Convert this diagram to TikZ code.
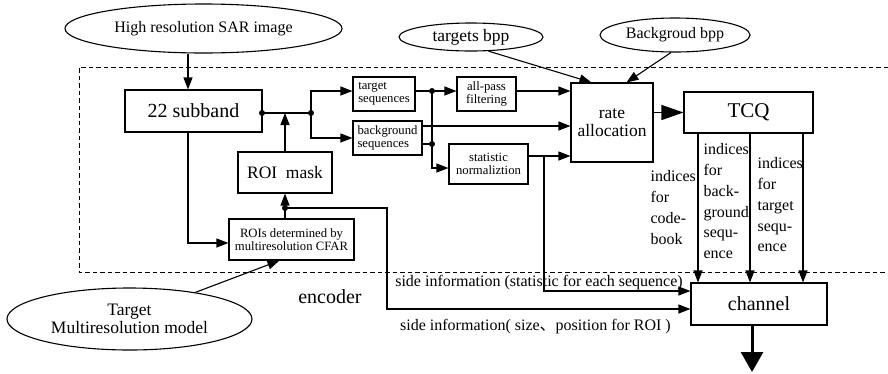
\documentclass[tikz,border=0pt]{standalone}
\usepackage{fontspec}
\setmainfont{Liberation Serif}
\newfontfamily\cjkfont{Noto Sans CJK SC}
\usetikzlibrary{shapes.geometric,arrows.meta,calc}
\begin{document}
\begin{tikzpicture}[x=1pt,y=-1pt,line width=1.1pt,
  box/.style={draw,rectangle,inner sep=0pt,align=center},
  oval/.style={draw,ellipse,inner sep=0pt,align=center},
  lbl/.style={inner sep=0pt,align=left},
  arr/.style={-{Triangle[length=12pt,width=9pt]}},
  bigarr/.style={-{Triangle[length=22pt,width=15pt]}},
  outarr/.style={line width=3pt,-{Triangle[length=20pt,width=22pt]}},
  jdot/.style={circle,fill,inner sep=0pt,minimum size=6pt},
  encbox/.style={dash pattern=on 4.5pt off 3pt,line width=1pt},
  fs/.style={font=\fontsize{12.7}{13}\selectfont},
  fm/.style={font=\fontsize{16}{19}\selectfont},
  fi/.style={font=\fontsize{16}{20.8}\selectfont},
  fl/.style={font=\fontsize{17.5}{17.5}\selectfont},
  fxl/.style={font=\fontsize{20}{22}\selectfont},
  fch/.style={font=\fontsize{20}{22}\selectfont},
  fxxl/.style={font=\fontsize{21}{24}\selectfont}]
\useasboundingbox (0,0) rectangle (888,373);
% encoder region
\draw[encbox] (888,67) -- (79,67) -- (79,272) -- (888,272);
% nodes
\node[oval,fm,minimum width=277pt,minimum height=49pt] (sar) at (203.5,28.5) {High resolution SAR image};
\node[oval,fl,minimum width=144pt,minimum height=28pt] (tbpp) at (471,37) {targets bpp};
\node[oval,fm,minimum width=150pt,minimum height=34pt] (bbpp) at (675,35) {Backgroud bpp};
\node[oval,fl,minimum width=245pt,minimum height=62pt] (tmm) at (129.5,319) {Target\\Multiresolution model};
\node[box,fxl,minimum width=137pt,minimum height=42pt] (sub) at (193.5,111) {22 subband};
\node[box,fl,minimum width=94pt,minimum height=41pt] (roim) at (285,172.5) {ROI~~mask};
\node[box,fs,minimum width=125pt,minimum height=41pt] (rois) at (291.5,239.5) {ROIs determined by\\multiresolution CFAR};
\node[box,fs,align=left,minimum width=62pt,minimum height=34pt] (tseq) at (384,94) {target\\sequences};
\node[box,fs,align=left,minimum width=69pt,minimum height=34pt] (bseq) at (387.5,138) {background\\sequences};
\node[box,fs,minimum width=59pt,minimum height=34pt] (apf) at (486.5,94) {all-pass\\filtering};
\node[box,fs,minimum width=79pt,minimum height=40pt] (stn) at (488.5,164) {statistic\\normaliztion};
\node[box,fl,minimum width=82pt,minimum height=79pt] (rate) at (612,122.5) {rate\\allocation};
\node[box,fxxl,minimum width=129pt,minimum height=41pt] (tcq) at (748.5,112.5) {TCQ};
\node[box,fch,minimum width=136pt,minimum height=42pt] (chan) at (759,304) {channel};
% labels
\node[lbl,fm] (side1) at (539,283) {side information (statistic for each sequence)};
\node[lbl,fm] (side2) at (535.5,327) {side information( size{\cjkfont 、}position for ROI )};
\node[lbl,fch] (enc) at (330,297) {encoder};
\node[lbl,fi,anchor=north west] (icb) at (650,170) {indices\\for\\code-\\book};
\node[lbl,fi,anchor=north west] (ibg) at (703,143) {indices\\for\\back-\\ground\\sequ-\\ence};
\node[lbl,fi,anchor=north west] (itg) at (757,157) {indices\\for\\target\\sequ-\\ence};
% junctions
\node[jdot] (d0) at (262,113) {};
\node[jdot] (d1) at (311,113) {};
\node[jdot] (d2) at (432,91) {};
\node[jdot] (d3) at (432,144) {};
\node[jdot] (d4) at (285,208) {};
% helper coordinates
\coordinate (xa) at (188,0);
\coordinate (y126) at (0,126);
\coordinate (y156) at (0,156);
\coordinate (y168) at (0,168);
\coordinate (y243) at (0,243);
\coordinate (y291) at (0,291);
\coordinate (y309) at (0,309);
\coordinate (s1) at (544,156);
\coordinate (xr) at (387,0);
\coordinate (xi1) at (698,0);
\coordinate (xi2) at (750,0);
\coordinate (xi3) at (803,0);
\coordinate (xo) at (752,0);
\coordinate (yo) at (0,372);
% connectors
\draw[arr] (sar.south -| xa) -- (sub.north -| xa);
\draw (d0.center) -- (d1.center);
\draw[arr] (d1.center) |- (tseq.west |- d2);
\draw[arr] (d1.center) |- (bseq.west);
\draw (tseq.east |- d2) -- (d2.center);
\draw[arr] (d2.center) -- (apf.west |- d2);
\draw[arr] (apf.east |- d2) -- (rate.west |- d2);
\draw[arr] (bseq.east |- y126) -- (rate.west |- y126);
\draw (bseq.east |- d3) -- (d3.center);
\draw[arr] (d2.center) -- (d2 |- y168) -- (stn.west |- y168);
\draw[arr] (stn.east |- y156) -- (rate.west |- y156);
\draw[arr] (s1) -- (s1 |- y291) -- (chan.west |- y291);
\draw[bigarr] (rate.east |- tcq.west) -- (tcq.west);
\draw[arr] (tcq.south -| xi1) -- (chan.north -| xi1);
\draw[arr] (tcq.south -| xi2) -- (chan.north -| xi2);
\draw[arr] (tcq.south -| xi3) -- (chan.north -| xi3);
\draw[outarr] (chan.south -| xo) -- (xo |- yo);
\draw[arr] (tbpp.-39) -- ($(rate.north west)+(21,0)$);
\draw[arr] ($(bbpp.south)+(-4,0)$) -- ($(rate.north west)+(56,0)$);
\draw[arr] (sub.south -| xa) -- (xa |- y243) -- (rois.west |- y243);
\draw[arr] (tmm.22) -- ($(rois.south west)+(51,0)$);
\draw (rois.north -| d4) -- (d4.center);
\draw[arr] (d4.center) -- (roim.south -| d4);
\draw[arr] (roim.north) -- (roim.north |- d1);
\draw[arr] (d4.center) -- (xr |- d4) -- (xr |- y309) -- (chan.west |- y309);
\end{tikzpicture}
\end{document}
